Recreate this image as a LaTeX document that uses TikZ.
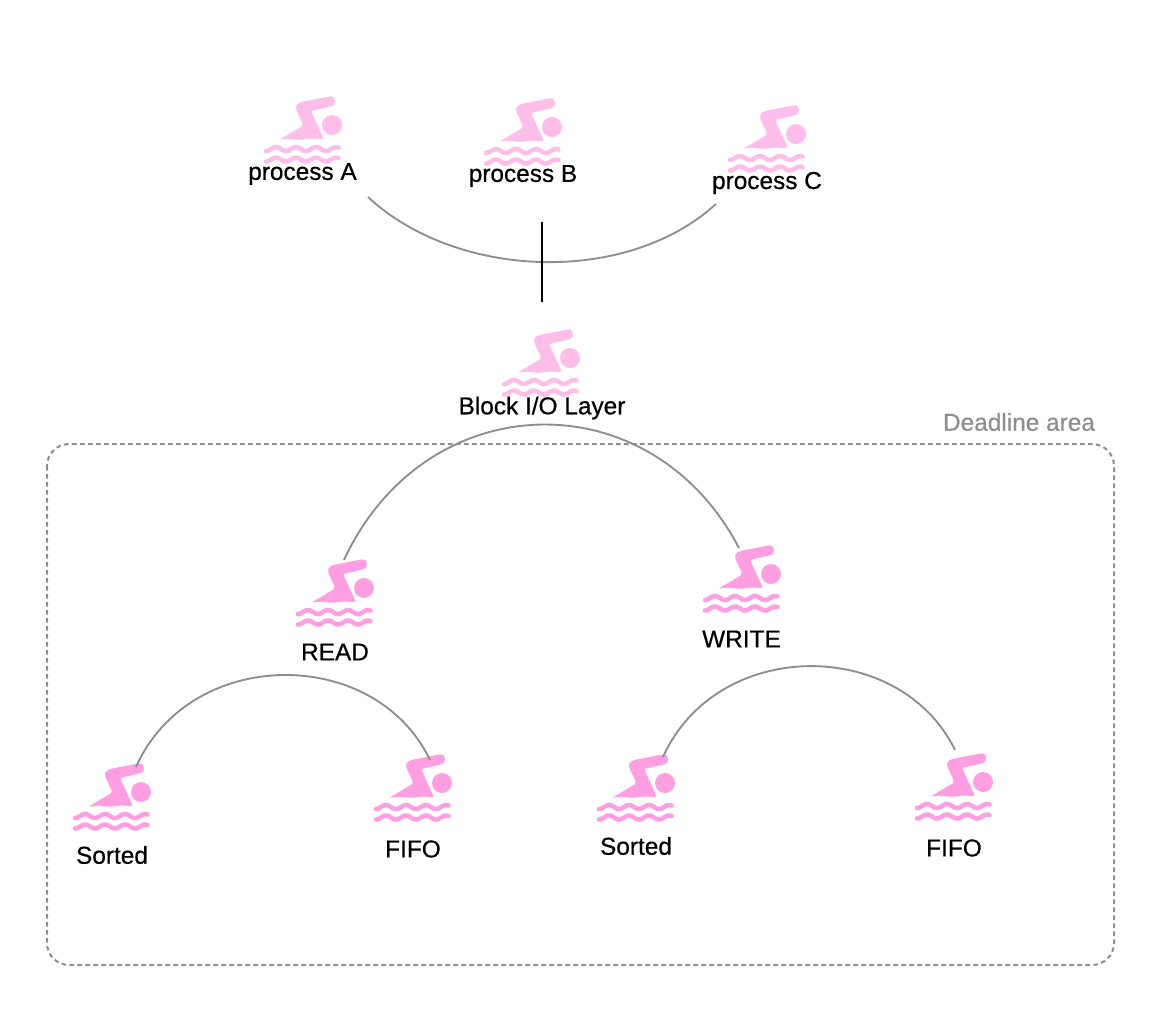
\documentclass[tikz,border=0pt]{standalone}
\usepackage{fontspec}
\setmainfont{Liberation Sans}
\newfontfamily\labelfont[FakeBold=0.6]{Liberation Sans}
\definecolor{swimlight}{HTML}{FFBDEA}
\definecolor{swimdark}{HTML}{FF9FE1}
\definecolor{arcgray}{HTML}{8E8E8E}
\tikzset{
  pics/swimmer/.style={code={
    \fill[#1,rounded corners=1.5] (-22.7,6.7) -- (1.5,-7.7) -- (-6.5,-25) -- (-5,-29) -- (-1,-31) -- (27.3,-36.5)
      .. controls (33.5,-37) and (34.5,-28) .. (28,-26.5) -- (9,-22) -- (22,6) -- (9,5.5) -- (-2,7) -- (-12,5.5) -- cycle;
    \fill[#1] (30,-8) circle (10);
    \draw[#1,line width=3.4,line cap=round] plot[domain=-36:36.5,samples=70] (\x,{16+2*sin(18*\x+18)});
    \draw[#1,line width=3.4,line cap=round] plot[domain=-36:36.5,samples=70] (\x,{26.5+2*sin(18*\x+18)});
  }},
  label/.style={font=\labelfont\fontsize{18.3}{20}\selectfont,text=black,inner sep=0pt},
  arc/.style={draw=arcgray,line width=1.4}
}
\begin{document}
\begin{tikzpicture}[x=0.75pt,y=-0.75pt]
\useasboundingbox (0,0) rectangle (1154,1008);
% dashed area
\draw[arcgray,line width=1.5,dash pattern=on 3.4 off 2.6,rounded corners=16.5] (47,444) rectangle (1114,965);
\node[label,text=arcgray] (deadline) at (1019,422) {Deadline area};
% swimmers
\pic at (302,133) {swimmer=swimlight};
\pic at (522,135) {swimmer=swimlight};
\pic at (766,142) {swimmer=swimlight};
\pic at (540,366) {swimmer=swimlight};
\pic at (334,596) {swimmer=swimdark};
\pic at (741,582) {swimmer=swimdark};
\pic at (111,800) {swimmer=swimdark};
\pic at (412,791) {swimmer=swimdark};
\pic at (635,791) {swimmer=swimdark};
\pic at (953,790) {swimmer=swimdark};
% labels
\node[label] (procA) at (302.5,174) {process A};
\node[label] (procB) at (523,176) {process B};
\node[label] (procC) at (767,183) {process C};
\node[label] (block) at (542,408) {Block I/O Layer};
\node[label] (read) at (335,652) {READ};
\node[label] (write) at (741.5,639) {WRITE};
\node[label] (sortedR) at (112,855) {Sorted};
\node[label] (fifoR) at (413,849) {FIFO};
\node[label] (sortedW) at (636,846) {Sorted};
\node[label] (fifoW) at (954,848) {FIFO};
% arc ends
\coordinate (procL) at (368,197);
\coordinate (procR) at (716,204);
\coordinate (blockL) at (344,560);
\coordinate (blockR) at (739,548);
\coordinate (readL) at (136,767);
\coordinate (readR) at (430,760);
\coordinate (writeL) at (663,757);
\coordinate (writeR) at (955,750);
\coordinate (stemT) at (542,222);
\coordinate (stemB) at (542,302);
\draw[arc] (procL) .. controls (456,279) and (626,286) .. (procR);
\draw[arc] (blockL) .. controls (425,385) and (650,378) .. (blockR);
\draw[arc] (readL) .. controls (190,646) and (375,645) .. (readR);
\draw[arc] (writeL) .. controls (717,637) and (900,637) .. (writeR);
\draw[line width=1.5] (stemT) -- (stemB);
\end{tikzpicture}
\end{document}
